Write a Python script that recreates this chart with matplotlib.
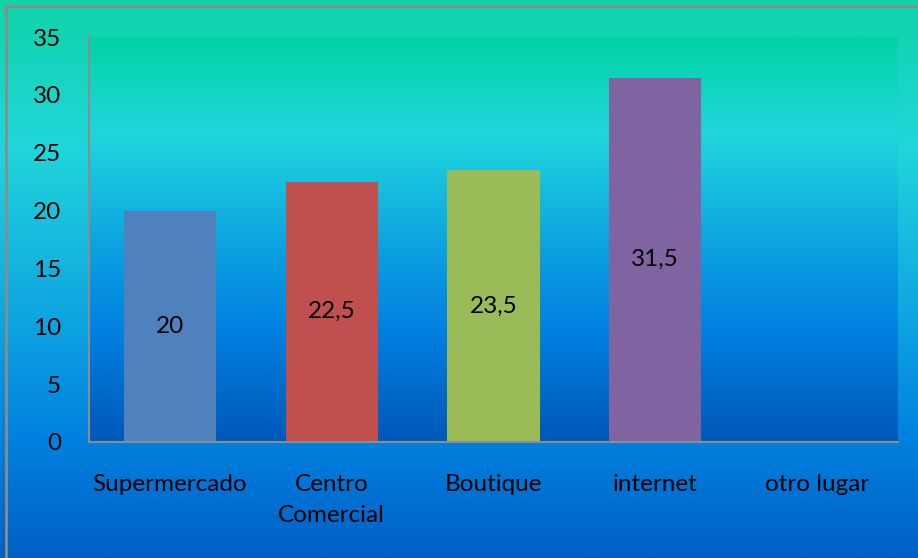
import numpy as np
import matplotlib
matplotlib.use("Agg")
import matplotlib.pyplot as plt
from matplotlib.colors import LinearSegmentedColormap
from matplotlib.patches import Rectangle

categories = ["Supermercado", "Centro\nComercial", "Boutique", "internet", "otro lugar"]
values = [20, 22.5, 23.5, 31.5, 0]
value_labels = ["20", "22,5", "23,5", "31,5", ""]
bar_colors = ["#4F81BD", "#C0504D", "#9BBB59", "#8064A2", "#4BACC6"]
yticks = [0, 5, 10, 15, 20, 25, 30, 35]

plt.rcParams['font.family'] = ['Lato', 'DejaVu Sans']
FS = 17.5

W, H = 918, 558
fig = plt.figure(figsize=(W / 100, H / 100), dpi=100)

# figure background gradient
bg = fig.add_axes([0, 0, 1, 1], zorder=-10)
bg_cmap = LinearSegmentedColormap.from_list("bg", [
    (0.0, "#0ED4A8"), (0.26, "#20D6DA"), (0.55, "#10A8E0"),
    (0.78, "#0082E0"), (1.0, "#0060C4")])
grad = np.linspace(0, 1, 256).reshape(-1, 1)
bg.imshow(grad, aspect="auto", cmap=bg_cmap, extent=[0, 1, 0, 1], origin="upper")
bg.set_xlim(0, 1); bg.set_ylim(0, 1)
bg.axis("off")
# border (top/left)
fig.patches.append(Rectangle((6 / W, -0.1), 1.2, (H - 6) / H + 0.1,
                             transform=fig.transFigure, fill=False,
                             edgecolor="#8C8C8C", linewidth=2, zorder=5))

# plot area
x0, x1 = 89, 898
y0, y1 = 37, 442
ax = fig.add_axes([x0 / W, 1 - y1 / H, (x1 - x0) / W, (y1 - y0) / H])
ax.set_facecolor("none")
pa_cmap = LinearSegmentedColormap.from_list("pa", [
    (0.0, "#00D4A4"), (0.24, "#20D6DC"), (0.55, "#0A9CE0"),
    (0.73, "#0080E0"), (1.0, "#0058B8")])
n = len(categories)
ax.imshow(grad, aspect="auto", cmap=pa_cmap, extent=[-0.5, n - 0.5, 0, 35],
          origin="upper", zorder=0)

x = np.arange(n)
bars = ax.bar(x, values, width=0.57, color=bar_colors, zorder=2)
for xi, v, lab in zip(x, values, value_labels):
    if lab:
        ax.text(xi, v / 2, lab, ha="center", va="center", fontsize=FS,
                color="black", zorder=3)

ax.set_xlim(-0.5, n - 0.5)
ax.set_ylim(0, 35)
ax.set_yticks(yticks)
ax.set_yticklabels([str(t) for t in yticks], fontsize=FS)
ax.set_xticks(x)
ax.set_xticklabels(categories, fontsize=FS, linespacing=1.6, va="top")
ax.tick_params(axis="both", length=0)
ax.tick_params(axis="y", pad=20)
ax.tick_params(axis="x", pad=23)
for s in ["top", "right"]:
    ax.spines[s].set_visible(False)
for s in ["left", "bottom"]:
    ax.spines[s].set_color("#8C8C8C")
    ax.spines[s].set_linewidth(1.5)

fig.savefig("out.png", dpi=100)
